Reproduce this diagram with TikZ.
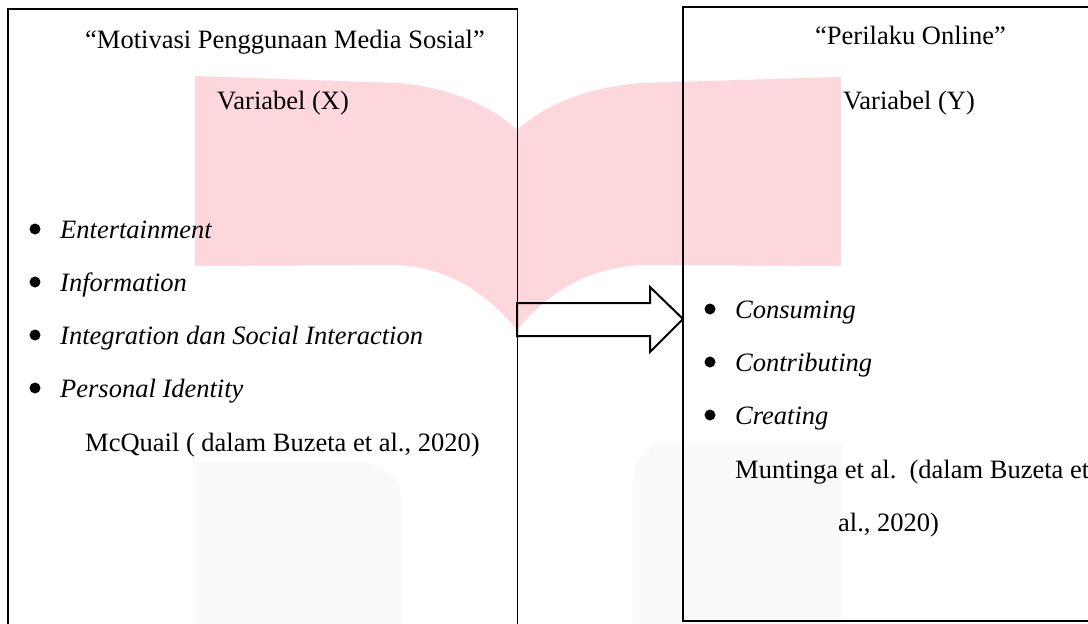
\documentclass[tikz,border=0pt]{standalone}
\usepackage{fontspec}
\setmainfont{Liberation Serif}
\definecolor{wmpink}{RGB}{253,215,220}
\definecolor{wmgray}{RGB}{250,250,250}
\tikzset{
  frame/.style={draw=black, line width=1.1pt},
  txt/.style={anchor=base west, inner sep=0pt, font=\fontsize{26.5}{30}\selectfont},
  itxt/.style={txt, font=\fontsize{26.5}{30}\selectfont\itshape},
  dot/.style={circle, fill=black, inner sep=0pt, minimum size=11pt},
  bigarrow/.style={draw=black, line width=2pt, line join=miter}
}
\begin{document}
\begin{tikzpicture}[x=1pt,y=-1pt]
\useasboundingbox (0,0) rectangle (1088,624);
\clip (0,0) rectangle (1088,624);
\fill[white] (0,0) rectangle (1088,624);
% faint gray watermark shapes
\fill[wmgray] (195,700) -- (195,463) -- (362,463) to[out=0,in=90] (402,503) -- (402,700) -- cycle;
\fill[wmgray] (633,700) -- (633,482) to[out=90,in=180] (673,442) -- (842,442) -- (842,700) -- cycle;
% pink watermark (open book)
\fill[wmpink] (195,76) -- (400,83) .. controls (450,88) and (490,105) .. (517,130)
  .. controls (545,105) and (585,88) .. (640,83) -- (841,77) -- (841,266)
  -- (640,265) .. controls (590,268) and (550,290) .. (517,330)
  .. controls (485,290) and (445,268) .. (400,265) -- (195,266) -- cycle;
% boxes
\draw[frame] (8,700) -- (8,9) -- (517.5,9) -- (517.5,700);
\draw[frame] (1100,621) -- (683,621) -- (683,7) -- (1100,7);
% nodes
\node[txt] (tx) at (85,48) {“Motivasi Penggunaan Media Sosial”};
\node[txt] (vx) at (217,109) {Variabel (X)};
\node[dot] (b1) at (35,229) {};
\node[itxt] (x1) at (60,238) {Entertainment};
\node[dot] (b2) at (35,282) {};
\node[itxt] (x2) at (60,291) {Information};
\node[dot] (b3) at (35,335) {};
\node[itxt] (x3) at (60,344) {Integration dan Social Interaction};
\node[dot] (b4) at (35,388) {};
\node[itxt] (x4) at (60,397) {Personal Identity};
\node[txt] (sx) at (85,451) {McQuail ( dalam Buzeta et al., 2020)};

\node[txt] (ty) at (815,44) {“Perilaku Online”};
\node[txt] (vy) at (843,109) {Variabel (Y)};
\node[dot] (c1) at (710,309) {};
\node[itxt] (y1) at (735,318) {Consuming};
\node[dot] (c2) at (710,362) {};
\node[itxt] (y2) at (735,371) {Contributing};
\node[dot] (c3) at (710,415) {};
\node[itxt] (y3) at (735,424) {Creating};
\node[txt] (sy1) at (735,478) {Muntinga et al.\ \ (dalam Buzeta et};
\node[txt] (sy2) at (838,531) {al., 2020)};
% block arrow
\draw[bigarrow] (517,303) -- (650,303) -- (650,287) -- (683,319) -- (650,352) -- (650,336) -- (517,336) -- cycle;
\end{tikzpicture}
\end{document}
